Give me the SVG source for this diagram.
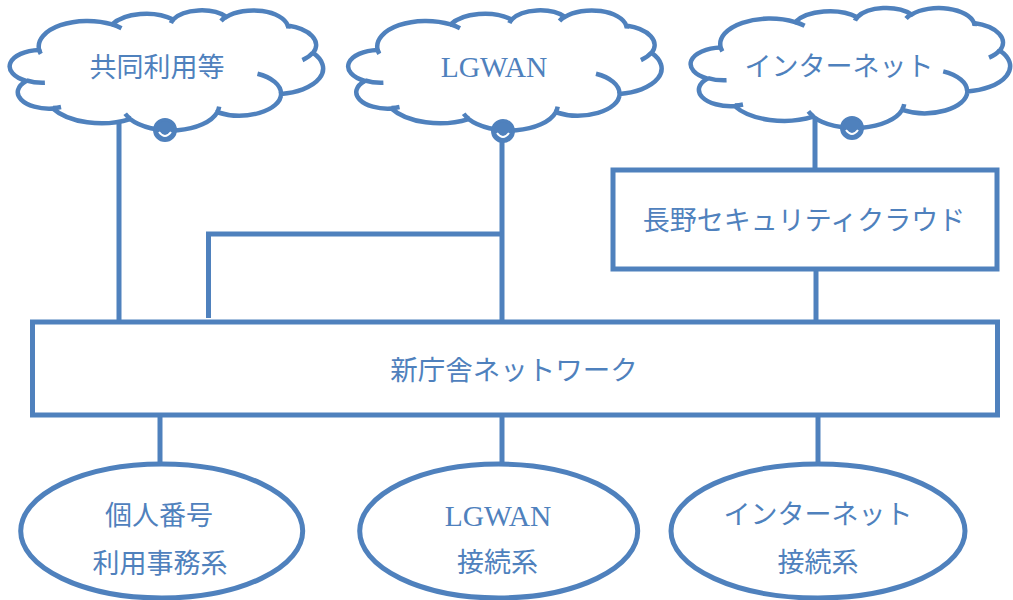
<svg xmlns="http://www.w3.org/2000/svg" xmlns:xlink="http://www.w3.org/1999/xlink" width="1013" height="600" viewBox="0 0 1013 600">
<style>
.ln{fill:none;stroke:#4F81BD;stroke-width:5;}
.shp{fill:#FFFFFF;stroke:#4F81BD;stroke-width:5;}
.cl{fill:#FFFFFF;stroke:#4F81BD;stroke-width:4.5;vector-effect:non-scaling-stroke;}
.cli{fill:none;stroke:#4F81BD;stroke-width:4.5;vector-effect:non-scaling-stroke;}
.t{font-family:"Liberation Serif","Noto Sans CJK JP",serif;font-size:27px;fill:#4F81BD;text-anchor:middle;dominant-baseline:central;}
.lg{font-size:29.5px;}
.dot{fill:#4F81BD;stroke:#4F81BD;stroke-width:3;}
.smile{fill:none;stroke:#FFFFFF;stroke-width:2;}
</style>
<defs>
<g id="cloud">
<path class="cl" d="M3900 14370 A6753 9190 0 0 1 14005 5202 A5333 7267 0 0 1 22456 3432 A4365 5945 0 0 1 29834 2483 A4857 6595 0 0 1 38319 5578 A5333 7273 0 0 1 41820 15462 A6775 9220 0 0 1 37404 30202 A5785 7867 0 0 1 28555 36812 A6752 9215 0 0 1 16481 39265 A7720 10543 0 0 1 5804 35470 A4360 5918 0 0 1 2113 25548 A4345 5945 0 0 1 3900 14370 Z"/>
<path class="cli" d="M4693 26177 A4345 5945 0 0 1 2160 25380 M6928 34899 A4360 5918 0 0 1 5819 35281 M16478 39090 A6752 9215 0 0 1 15810 37348 M28827 34751 A6752 9215 0 0 1 28560 36660 M34129 22954 A5785 7867 0 0 1 37380 30090 M41798 15354 A5333 7273 0 0 1 40350 18030 M38324 5426 A4857 6595 0 0 1 38400 6690 M29078 3952 A4857 6595 0 0 1 29820 2340 M22141 4720 A4365 5945 0 0 1 22500 3330 M14000 5192 A6753 9190 0 0 1 15298 6538 M4127 15789 A6753 9190 0 0 1 3900 14370"/>
</g>
<g id="dotm">
<circle class="dot" r="10.5"/>
<path class="smile" d="M-6 2 Q0 10 6 2"/>
</g>
</defs>

<g id="connectors">
<path class="ln" d="M119 122 V326"/>
<path class="ln" d="M502 130 V320"/>
<path class="ln" d="M208.5 318 V234 H502"/>
<path class="ln" d="M815 114 V170"/>
<path class="ln" d="M816 269 V322"/>
<path class="ln" d="M160 415 V464"/>
<path class="ln" d="M502 415 V464"/>
<path class="ln" d="M818 415 V464"/>
</g>

<g id="cloud-kyodo">
<use xlink:href="#cloud" transform="translate(11 10) scale(0.0072222 0.0027778)"/>
<use xlink:href="#dotm" x="165" y="130"/>
<text class="t" x="157" y="68">共同利用等</text>
</g>

<g id="cloud-lgwan">
<use xlink:href="#cloud" transform="translate(349.5 10) scale(0.0072222 0.0027778)"/>
<use xlink:href="#dotm" x="503" y="131"/>
<text class="t lg" x="494" y="67">LGWAN</text>
</g>

<g id="cloud-internet">
<use xlink:href="#cloud" transform="translate(692 7.6) scale(0.0073611 0.0027778)"/>
<use xlink:href="#dotm" x="852" y="128"/>
<text class="t" x="839" y="66.5">インターネット</text>
</g>

<g id="nagano-cloud">
<rect class="shp" x="613" y="170" width="384" height="99"/>
<text class="t" x="804" y="221">長野セキュリティクラウド</text>
</g>

<g id="shinchosha">
<rect class="shp" x="32.5" y="322" width="965" height="93"/>
<text class="t" x="514" y="370" style="font-size:27.5px">新庁舎ネットワーク</text>
</g>

<g id="kojin">
<ellipse class="shp" cx="161.7" cy="531" rx="141" ry="67"/>
<text class="t" x="159" y="515.5">個人番号</text>
<text class="t" x="160" y="564">利用事務系</text>
</g>

<g id="lgwan-sys">
<ellipse class="shp" cx="498.7" cy="531" rx="139" ry="67"/>
<text class="t lg" x="498" y="515.5">LGWAN</text>
<text class="t" x="497.5" y="563">接続系</text>
</g>

<g id="internet-sys">
<ellipse class="shp" cx="818" cy="531" rx="147" ry="67"/>
<text class="t" x="818" y="515">インターネット</text>
<text class="t" x="818" y="563">接続系</text>
</g>
</svg>
